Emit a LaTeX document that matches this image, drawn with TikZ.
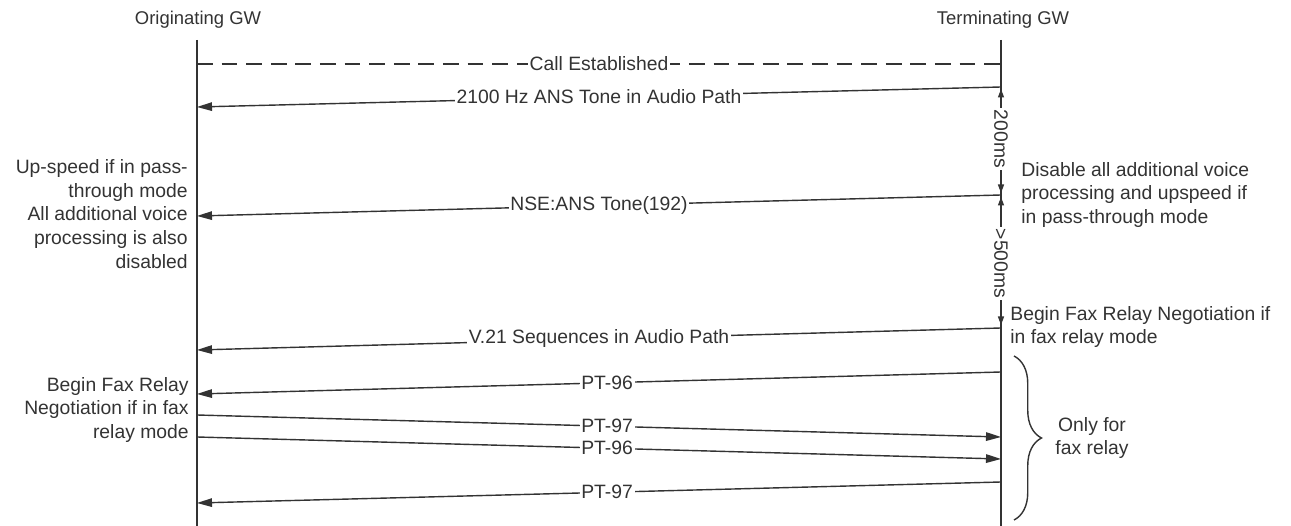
\documentclass[tikz,border=0pt]{standalone}
\usepackage{fontspec}
\setmainfont{Liberation Sans}
\usetikzlibrary{arrows.meta, positioning, decorations.pathreplacing}
\tikzset{
  lifeline/.style={line width=0.8pt, black!80},
  msg/.style={line width=0.8pt, black!80, -{Triangle[length=0.3cm, width=0.17cm]}},
  timer/.style={line width=0.8pt, black!80,
    {Triangle[length=0.17cm, width=0.12cm]}-{Triangle[length=0.17cm, width=0.12cm]}},
  lbl/.style={font=\fontsize{11}{13.6}\selectfont, text=black!80, fill=white, inner sep=1pt},
  note/.style={font=\fontsize{11}{13.6}\selectfont, text=black!80, inner sep=0pt},
}

\begin{document}
\begin{tikzpicture}[x=0.02cm, y=-0.02cm]
  \useasboundingbox (0,0) rectangle (1291,526);

  % gateways and lifelines
  \node[note, font=\fontsize{10.5}{13}\selectfont] (orig) at (198,20) {Originating GW};
  \node[note, font=\fontsize{10.5}{13}\selectfont] (term) at (1003,20) {Terminating GW};
  \coordinate (otop) at (197,40);
  \coordinate (obot) at (197,526);
  \coordinate (ttop) at (1001,40);
  \coordinate (tbot) at (1001,526);
  \draw[lifeline] (otop) -- (obot);
  \draw[lifeline] (ttop) -- (tbot);

  % points on the lifelines
  \coordinate (o0) at (197,64);   \coordinate (t0) at (1001,64);
  \coordinate (o1) at (197,107);  \coordinate (t1) at (1001,87);
  \coordinate (o2) at (197,216);  \coordinate (t2) at (1001,195);
  \coordinate (o3) at (197,350);  \coordinate (t3) at (1001,328);
  \coordinate (o4) at (197,394);  \coordinate (t4) at (1001,372);
  \coordinate (o5) at (197,415);  \coordinate (t5) at (1001,437);
  \coordinate (o6) at (197,437);  \coordinate (t6) at (1001,459);
  \coordinate (o7) at (197,503);  \coordinate (t7) at (1001,482);

  % messages
  \draw[lifeline, dashed, dash pattern=on 9pt off 5pt] (o0) -- (t0)
    node[lbl, pos=.5] {Call Established};
  \draw[msg] (t1) -- (o1) node[lbl, pos=.5] {2100 Hz ANS Tone in Audio Path};
  \draw[msg] (t2) -- (o2) node[lbl, pos=.5] {NSE:ANS Tone(192)};
  \draw[msg] (t3) -- (o3) node[lbl, pos=.5] {V.21 Sequences in Audio Path};
  \draw[msg] (t4) -- (o4) node[lbl, pos=.49] {PT-96};
  \draw[msg] (o5) -- (t5) node[lbl, pos=.51] {PT-97};
  \draw[msg] (o6) -- (t6) node[lbl, pos=.51] {PT-96};
  \draw[msg] (t7) -- (o7) node[lbl, pos=.49] {PT-97};

  % timers on the terminating side
  \coordinate (ta) at (1001,89);
  \coordinate (tb) at (1001,193);
  \coordinate (tc) at (1001,197);
  \coordinate (td) at (1001,325);
  \draw[timer] (ta) -- (tb) node[lbl, pos=.48, rotate=-90] {200ms};
  \draw[timer] (tc) -- (td) node[lbl, pos=.52, rotate=-90] {>500ms};

  % notes
  \node[note, anchor=east, align=right] (upspeed) at (188,214)
    {Up-speed if in pass-\\through mode\\All additional voice\\processing is also\\disabled};
  \node[note, anchor=east, align=right] (faxorig) at (189,410)
    {Begin Fax Relay\\Negotiation if in fax\\relay mode};
  \node[note, anchor=west, align=left] (disable) at (1021,195)
    {Disable all additional voice\\processing and upspeed if\\in pass-through mode};
  \node[note, anchor=west, align=left] (faxterm) at (1010,327)
    {Begin Fax Relay Negotiation if\\in fax relay mode};

  % fax relay brace
  \coordinate (btop) at (1014,356);
  \coordinate (bbot) at (1014,520);
  \draw[lifeline, decorate, decoration={brace, amplitude=0.55cm}] (btop) -- (bbot);
  \node[note, align=center] (onlyfax) at (1092,438) {Only for\\fax relay};
\end{tikzpicture}
\end{document}
